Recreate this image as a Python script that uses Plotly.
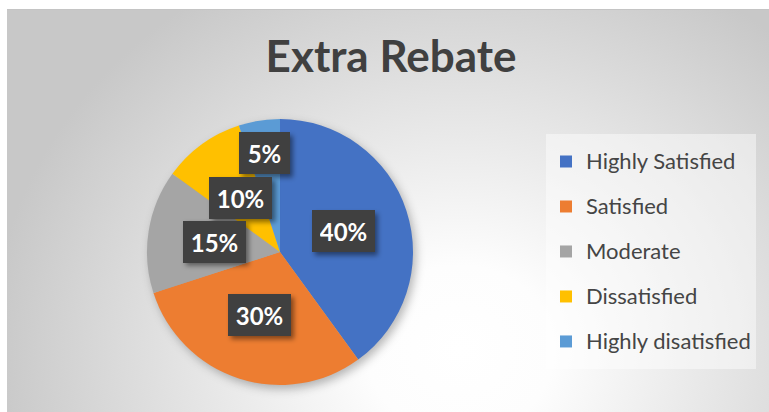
import base64
import math
import plotly.graph_objects as go

# ---- data -------------------------------------------------------------
categories = ["Highly Satisfied", "Satisfied", "Moderate", "Dissatisfied", "Highly disatisfied"]
shares = [40, 30, 15, 10, 5]
colors = ["#4472C4", "#ED7D31", "#A5A5A5", "#FFC000", "#5B9BD5"]
title_text = "Extra Rebate"

# ---- layout constants (pixels) ----------------------------------------
W, H = 769, 412
PIE_CX, PIE_CY, PIE_R = 280, 252, 133
LABEL_FONT = 24
LABEL_PAD = 8
LABEL_BOX_H = 26

total = sum(shares)


def label_geometry():
    """Centre of each data label (pixels), placed along the slice bisector."""
    out = []
    start = 0.0
    for v in shares:
        frac = v / total
        mid = (start + frac / 2) * 2 * math.pi  # clockwise from 12 o'clock
        r_frac = 0.5 if frac >= 0.1 else 0.75
        px = PIE_CX + r_frac * PIE_R * math.sin(mid)
        py = PIE_CY - r_frac * PIE_R * math.cos(mid)
        out.append((px, py))
        start += frac
    return out


labels_txt = [f"{v / total:.0%}" for v in shares]
label_pos = label_geometry()
label_w = [11 + 12 * len(t) for t in labels_txt]


def svg_uri(body):
    svg = (f'<svg xmlns="http://www.w3.org/2000/svg" width="{W}" height="{H}" '
           f'viewBox="0 0 {W} {H}">{body}</svg>')
    return "data:image/svg+xml;base64," + base64.b64encode(svg.encode()).decode()


# chart-area background with a soft radial fill and the pie's drop shadow
bg_svg = svg_uri(
    '<defs>'
    '<radialGradient id="g" gradientUnits="userSpaceOnUse" cx="460" cy="350" r="470" '
    'gradientTransform="translate(460 350) scale(1 0.9) translate(-460 -350)">'
    '<stop offset="0" stop-color="#ffffff"/>'
    '<stop offset="0.2" stop-color="#fdfdfd"/>'
    '<stop offset="0.6" stop-color="#e3e3e3"/>'
    '<stop offset="1" stop-color="#c8c8c8"/>'
    '</radialGradient>'
    '<filter id="b" x="-30%" y="-30%" width="160%" height="160%">'
    '<feGaussianBlur stdDeviation="5"/></filter>'
    '</defs>'
    f'<rect width="{W}" height="{H}" fill="#ffffff"/>'
    f'<rect x="7" y="9" width="{W}" height="{H}" fill="url(#g)"/>'
    f'<line x1="7" y1="9.5" x2="{W}" y2="9.5" stroke="#c4c4c4" stroke-width="1"/>'
    f'<circle cx="{PIE_CX + 3}" cy="{PIE_CY + 4}" r="{PIE_R}" fill="#000" '
    'fill-opacity="0.28" filter="url(#b)"/>'
)

# shadows under the data-label boxes
shadow_rects = "".join(
    f'<rect x="{px - w / 2 - LABEL_PAD + 3:.1f}" y="{py - LABEL_BOX_H / 2 - LABEL_PAD + 3:.1f}" '
    f'width="{w + 2 * LABEL_PAD}" height="{LABEL_BOX_H + 2 * LABEL_PAD}" '
    'fill="#000" fill-opacity="0.45" filter="url(#s)"/>'
    for (px, py), w in zip(label_pos, label_w)
)
label_shadow_svg = svg_uri(
    '<defs><filter id="s" x="-30%" y="-30%" width="160%" height="160%">'
    '<feGaussianBlur stdDeviation="2.5"/></filter></defs>' + shadow_rects
)

# legend entries: wide line box for the spacing, smaller visible text
LEG_TEXT = 22
legend_names = [
    f'<span style="font-size:{LEG_TEXT}px;baseline-shift:5px">{c}</span>' for c in categories
]

fig = go.Figure(
    go.Pie(
        labels=legend_names,
        values=shares,
        marker=dict(colors=colors, line=dict(width=0)),
        sort=False,
        direction="clockwise",
        rotation=0,
        textinfo="none",
        hoverinfo="skip",
        domain=dict(
            x=[(PIE_CX - PIE_R) / W, (PIE_CX + PIE_R) / W],
            y=[(H - PIE_CY - PIE_R) / H, (H - PIE_CY + PIE_R) / H],
        ),
    )
)

annotations = [
    dict(
        text=f"<b>{t}</b>",
        x=px / W, y=1 - py / H, xref="paper", yref="paper",
        xanchor="center", yanchor="middle",
        showarrow=False,
        width=w, height=LABEL_BOX_H,
        bgcolor="#404040", borderpad=LABEL_PAD, borderwidth=0,
        font=dict(family="Lato", size=LABEL_FONT, color="#ffffff"),
    )
    for t, (px, py), w in zip(labels_txt, label_pos, label_w)
]

fig.update_layout(
    width=W, height=H,
    margin=dict(l=0, r=0, t=0, b=0),
    paper_bgcolor="#ffffff",
    plot_bgcolor="rgba(0,0,0,0)",
    title=dict(
        text=f"<b>{title_text}</b>",
        x=391 / W, xanchor="center",
        y=1 - 57 / H, yanchor="middle",
        font=dict(family="Lato", size=44, color="#404040"),
    ),
    showlegend=True,
    legend=dict(
        x=546 / W, xanchor="left",
        y=1 - 134 / H, yanchor="top",
        bgcolor="rgba(255,255,255,0.45)",
        borderwidth=0,
        font=dict(family="Lato", size=32.3, color="#454545"),
        traceorder="normal",
    ),
    annotations=annotations,
    images=[
        dict(source=bg_svg, xref="paper", yref="paper", x=0, y=1, sizex=1, sizey=1,
             xanchor="left", yanchor="top", sizing="stretch", layer="below"),
        dict(source=label_shadow_svg, xref="paper", yref="paper", x=0, y=1, sizex=1, sizey=1,
             xanchor="left", yanchor="top", sizing="stretch", layer="above"),
    ],
)

fig.write_html("out.html")
